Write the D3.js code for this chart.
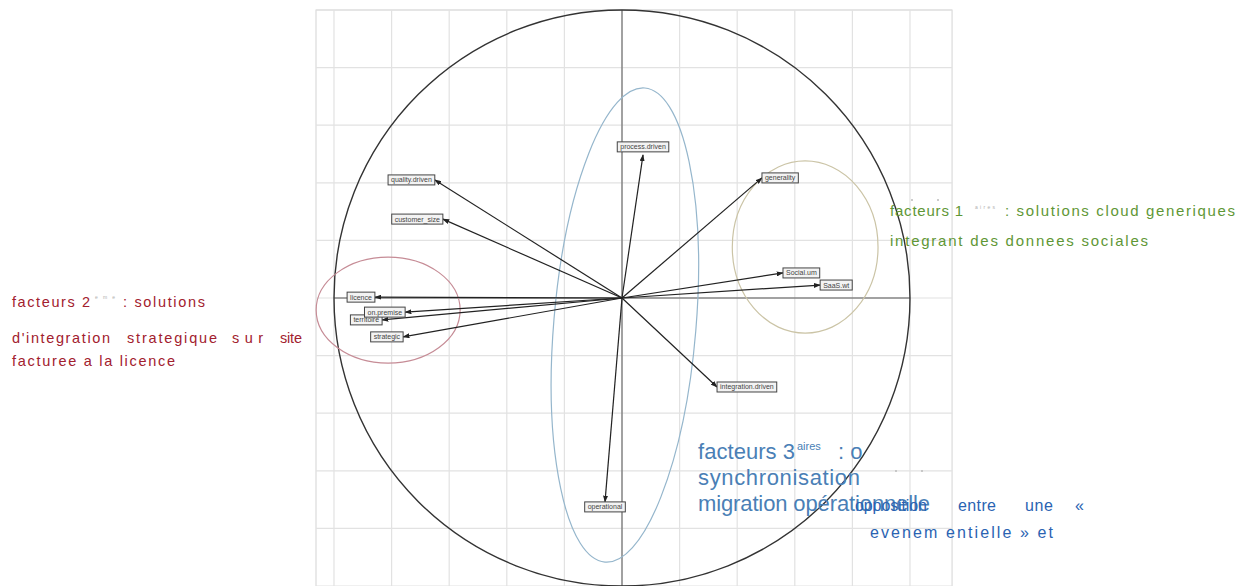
<!DOCTYPE html>
<html>
<head>
<meta charset="utf-8">
<script src="https://cdn.jsdelivr.net/npm/d3@7"></script>
<style>
  body { margin: 0; background: #fff; }
  svg { display: block; }
</style>
</head>
<body>
<svg id="chart" width="1251" height="586"></svg>
<script>
// variable coordinates on the correlation circle (Dim 1, Dim 2)
const variables = ["process.driven", "generality", "Social.um", "SaaS.wt", "integration.driven", "operational",
  "strategic", "territoire", "on.premise", "licence", "customer_size", "quality.driven"];
const dim1 = [0.073, 0.486, 0.559, 0.688, 0.330, -0.059, -0.760, -0.833, -0.753, -0.858, -0.622, -0.650];
const dim2 = [0.497, 0.417, 0.087, 0.045, -0.309, -0.708, -0.135, -0.076, -0.049, 0.003, 0.274, 0.410];

const gridTicks = [-1, -0.8, -0.6, -0.4, -0.2, 0, 0.2, 0.4, 0.6, 0.8, 1];

// ellipses grouping the factors
const groupCx = [0.636, -0.812, 0.010];
const groupCy = [0.177, -0.042, -0.094];
const groupRx = [0.253, 0.250, 0.247];
const groupRy = [0.299, 0.184, 0.826];
const groupAngle = [0, 0, 4.8];
const groupColors = ["#cbc4a6", "#c68c96", "#95b6cc"];

const svg = d3.select('#chart');

const x = d3.scaleLinear().domain([-1, 1]).range([334, 910]);
const y = d3.scaleLinear().domain([-1, 1]).range([586, 10]);
const xLim = [-1.0625, 1.146];
const yLim = [-1.1, 1];

const g = svg.append('g');

// panel background + grid
g.append('rect')
  .attr('x', x(xLim[0])).attr('y', y(yLim[1]))
  .attr('width', x(xLim[1]) - x(xLim[0]))
  .attr('height', y(yLim[0]) - y(yLim[1]))
  .attr('fill', '#fff')
  .attr('stroke', '#d4d4d4');

g.selectAll('.vgrid')
  .data(gridTicks)
  .join('line')
  .attr('class', 'vgrid')
  .attr('x1', d => x(d)).attr('x2', d => x(d))
  .attr('y1', y(yLim[1])).attr('y2', y(yLim[0]))
  .attr('stroke', '#e2e2e2').attr('stroke-width', 1.2);

g.selectAll('.hgrid')
  .data(gridTicks)
  .join('line')
  .attr('class', 'hgrid')
  .attr('x1', x(xLim[0])).attr('x2', x(xLim[1]))
  .attr('y1', d => y(d)).attr('y2', d => y(d))
  .attr('stroke', '#e2e2e2').attr('stroke-width', 1.2);

// axes through origin
g.append('line')
  .attr('x1', x(0)).attr('x2', x(0))
  .attr('y1', y(yLim[1])).attr('y2', y(yLim[0]))
  .attr('stroke', '#555').attr('stroke-width', 1);
g.append('line')
  .attr('x1', x(-1)).attr('x2', x(1))
  .attr('y1', y(0)).attr('y2', y(0))
  .attr('stroke', '#555').attr('stroke-width', 1);

// unit circle
g.append('circle')
  .attr('cx', x(0)).attr('cy', y(0))
  .attr('r', x(1) - x(0))
  .attr('fill', 'none')
  .attr('stroke', '#333').attr('stroke-width', 1.4);

// group ellipses
g.selectAll('.group')
  .data(groupCx)
  .join('ellipse')
  .attr('class', 'group')
  .attr('cx', 0).attr('cy', 0)
  .attr('rx', (d, i) => x(groupRx[i]) - x(0))
  .attr('ry', (d, i) => y(0) - y(groupRy[i]))
  .attr('transform', (d, i) => `translate(${x(d)},${y(groupCy[i])}) rotate(${groupAngle[i]})`)
  .attr('fill', 'none')
  .attr('stroke', (d, i) => groupColors[i])
  .attr('stroke-width', 1.2);

// arrows
svg.append('defs').append('marker')
  .attr('id', 'arrow')
  .attr('viewBox', '0 0 10 10')
  .attr('refX', 9).attr('refY', 5)
  .attr('markerWidth', 7).attr('markerHeight', 5)
  .attr('markerUnits', 'userSpaceOnUse')
  .attr('orient', 'auto')
  .attr('preserveAspectRatio', 'none')
  .append('path')
  .attr('d', 'M0,0 L10,5 L0,10 Z')
  .attr('fill', '#222');

g.selectAll('.arrow')
  .data(variables)
  .join('line')
  .attr('class', 'arrow')
  .attr('x1', x(0)).attr('y1', y(0))
  .attr('x2', (d, i) => x(dim1[i]))
  .attr('y2', (d, i) => y(dim2[i]))
  .attr('stroke', '#222')
  .attr('stroke-width', 1.2)
  .attr('marker-end', 'url(#arrow)');

// boxed labels
const labels = g.selectAll('.lab')
  .data(variables)
  .join('g')
  .attr('class', 'lab');

labels.each(function (d, i) {
  const sel = d3.select(this);
  const px = x(dim1[i]), py = y(dim2[i]);
  const t = sel.append('text')
    .text(d)
    .attr('font-family', 'Liberation Sans, Arial, sans-serif')
    .attr('font-size', 7)
    .attr('fill', '#444');
  const w = t.node().getComputedTextLength() + 6;
  const h = 10;
  let bx, by;
  const vertical = Math.abs(dim1[i]) < Math.abs(dim2[i]) * 0.5;
  if (vertical) {
    bx = px - w / 2;
    by = dim2[i] > 0 ? py - h - 3 : py;
  } else {
    bx = dim1[i] > 0 ? px : px - w;
    by = py - h / 2;
  }
  sel.insert('rect', 'text')
    .attr('x', bx).attr('y', by)
    .attr('width', w).attr('height', h)
    .attr('fill', '#f3f3f3')
    .attr('stroke', '#444').attr('stroke-width', 1);
  t.attr('x', bx + 3).attr('y', by + 7.5);
});

// annotations
const ann = svg.append('g').attr('font-family', 'Liberation Sans, Arial, sans-serif');

function put(txt, px, py, size, color, len) {
  const t = ann.append('text')
    .attr('x', px).attr('y', py)
    .attr('font-size', size)
    .attr('fill', color)
    .text(txt);
  if (len) t.attr('textLength', len).attr('lengthAdjust', 'spacing');
  return t;
}

// green: facteurs 1
const green = '#5f9736';
put('facteurs 1', 890, 216, 15, green, 73);
put('aires', 975, 209, 5, '#b0b0b0', 20);
put(': solutions cloud generiques', 1005, 216, 15, green, 230);
put('integrant des donnees sociales', 890, 246, 15, green, 258);
ann.append('circle').attr('cx', 912).attr('cy', 200).attr('r', 1).attr('fill', '#bbb');
ann.append('circle').attr('cx', 938).attr('cy', 200).attr('r', 1).attr('fill', '#bbb');

// red: facteurs 2
const red = '#a2202e';
put('facteurs 2', 12, 307, 14.5, red, 78);
put('eme', 95, 299, 5, '#b0b0b0', 20);
put(': solutions', 123, 307, 14.5, red, 82);
put("d'integration", 12, 343, 14.5, red, 98);
put('strategique', 127, 343, 14.5, red, 90);
put('sur', 232, 343, 14.5, red, 31);
put('site', 280, 343, 14.5, red, 22);
put('facturee a la licence', 12, 366, 14.5, red, 163);

// blue: facteurs 3
const blue = '#4a7fb6';
put('facteurs 3', 698, 459, 22, blue, 97);
put('aires', 797, 450, 11, blue);
put(': o', 838, 459, 22, blue);
put('synchronisation', 698, 485, 22, blue, 162);
put('migration opérationnelle', 698, 511, 22, blue, 232);
const blue2 = '#2a63b2';
put('opposition', 855, 511, 16, blue2, 72);
put('entre', 958, 511, 16, blue2, 38);
put('une', 1025, 511, 16, blue2, 28);
put('«', 1075, 511, 16, blue2);
put('evenem entielle » et', 870, 538, 16, blue2, 183);
ann.append('circle').attr('cx', 896).attr('cy', 471).attr('r', 1).attr('fill', '#bbb');
ann.append('circle').attr('cx', 922).attr('cy', 471).attr('r', 1).attr('fill', '#bbb');
</script>
</body>
</html>
